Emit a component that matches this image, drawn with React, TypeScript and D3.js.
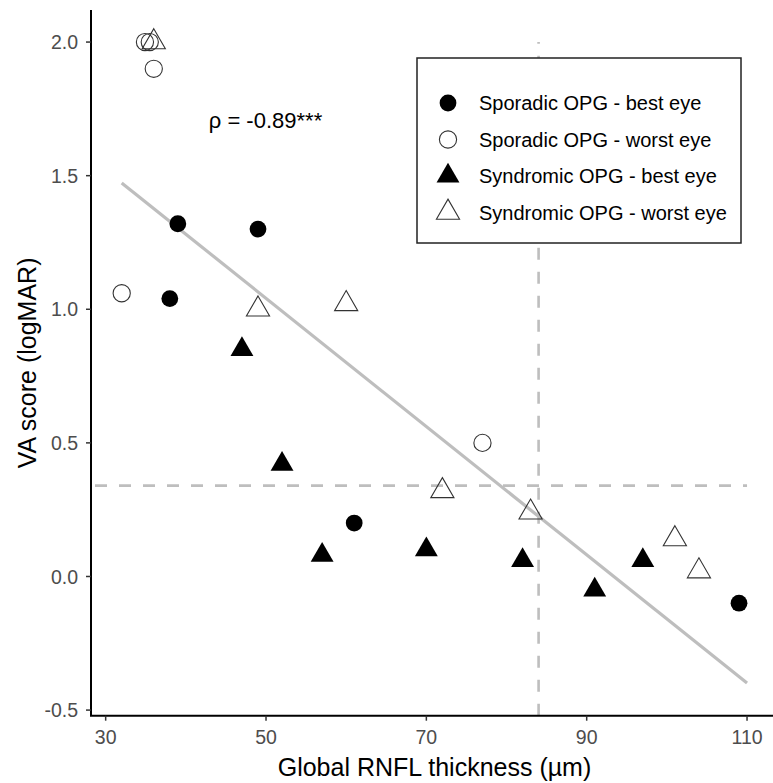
import React from "react";
import * as d3 from "d3";

// ---- data ----
const sporBestX = [39, 49, 38, 61, 109];
const sporBestY = [1.32, 1.3, 1.04, 0.2, -0.1];
const sporWorstX = [34.9, 35.5, 36, 32, 77];
const sporWorstY = [2.0, 2.0, 1.9, 1.06, 0.5];
const syndBestX = [47, 52, 57, 70, 82, 91, 97];
const syndBestY = [0.85, 0.42, 0.08, 0.1, 0.06, -0.05, 0.06];
const syndWorstX = [36, 49, 60, 72, 83, 101, 104];
const syndWorstY = [2.0, 1.0, 1.02, 0.32, 0.24, 0.14, 0.02];
const trendX = [32, 110];
const trendY = [1.473, -0.399];
const cutX = 84;
const cutY = 0.34;
const xTicks = [30, 50, 70, 90, 110];
const yTicks = [-0.5, 0.0, 0.5, 1.0, 1.5, 2.0];
const legendLabels = [
  "Sporadic OPG - best eye",
  "Sporadic OPG - worst eye",
  "Syndromic OPG - best eye",
  "Syndromic OPG - worst eye",
];
const annotation = "ρ = -0.89***";

const W = 773;
const H = 783;
const FONT = "'Liberation Sans', Arial, Helvetica, sans-serif";

const x = d3.scaleLinear().domain([28.17, 113.9]).range([91, 778.3]);
const y = d3.scaleLinear().domain([-0.521, 2.12]).range([715.7, 10]);

const TRC0 = Math.sqrt((4 * Math.PI) / (3 * Math.sqrt(3)));
const TRC1 = (TRC0 * Math.sqrt(3)) / 2;
const TRC2 = TRC0 / 2;
function triPath(cx: number, cy: number, r: number) {
  return `M${cx},${cy - r * TRC0}L${cx + r * TRC1},${cy + r * TRC2}L${cx - r * TRC1},${cy + r * TRC2}Z`;
}

type Kind = "fc" | "oc" | "ft" | "ot";
function Marker({ kind, cx, cy }: { kind: Kind; cx: number; cy: number }) {
  if (kind === "fc") return <circle cx={cx} cy={cy} r={8.4} fill="#000" />;
  if (kind === "oc")
    return <circle cx={cx} cy={cy} r={8.6} fill="none" stroke="#333" strokeWidth={1.1} />;
  if (kind === "ft") return <path d={triPath(cx, cy, 8.5)} fill="#000" />;
  return <path d={triPath(cx, cy, 8.6)} fill="none" stroke="#333" strokeWidth={1.1} />;
}

export default function App() {
  const line = d3
    .line<number>()
    .x((d) => x(trendX[d]))
    .y((d) => y(trendY[d]));
  const series: { kind: Kind; xs: number[]; ys: number[] }[] = [
    { kind: "oc", xs: sporWorstX, ys: sporWorstY },
    { kind: "ot", xs: syndWorstX, ys: syndWorstY },
    { kind: "fc", xs: sporBestX, ys: sporBestY },
    { kind: "ft", xs: syndBestX, ys: syndBestY },
  ];
  const legendKinds: Kind[] = ["fc", "oc", "ft", "ot"];
  const panelLeft = x.range()[0];
  const panelBottom = y.range()[0];
  const panelTop = y.range()[1];
  return (
    <svg
      width={W}
      height={H}
      style={{ position: "absolute", left: 0, top: 0, background: "#fff" }}
      fontFamily={FONT}
    >
      <rect x={0} y={0} width={W} height={H} fill="#fff" />
      {/* reference lines */}
      <line
        x1={x(cutX)}
        x2={x(cutX)}
        y1={panelBottom}
        y2={y(2.0)}
        stroke="#BEBEBE"
        strokeWidth={2.6}
        strokeDasharray="12,12"
      />
      <line
        x1={panelLeft + 4}
        x2={x(110)}
        y1={y(cutY)}
        y2={y(cutY)}
        stroke="#BEBEBE"
        strokeWidth={2.6}
        strokeDasharray="12,12"
      />
      {/* trend line */}
      <path d={line([0, 1]) || ""} stroke="#BEBEBE" strokeWidth={3.2} fill="none" />
      {/* points */}
      {series.map((s, si) =>
        s.xs.map((v, i) => <Marker key={si + "-" + i} kind={s.kind} cx={x(v)} cy={y(s.ys[i])} />)
      )}
      {/* annotation */}
      <text x={265.5} y={128} textAnchor="middle" fontSize={22} fill="#000">
        {annotation}
      </text>
      {/* axes */}
      <line x1={panelLeft} x2={panelLeft} y1={panelTop} y2={panelBottom} stroke="#000" strokeWidth={2} />
      <line x1={panelLeft - 1} x2={W} y1={panelBottom} y2={panelBottom} stroke="#000" strokeWidth={2} />
      {yTicks.map((t) => (
        <g key={"y" + t}>
          <line x1={panelLeft - 5} x2={panelLeft} y1={y(t)} y2={y(t)} stroke="#333" strokeWidth={1.5} />
          <text
            x={panelLeft - 13}
            y={y(t)}
            dy="0.36em"
            textAnchor="end"
            fontSize={19.5}
            fill="#4D4D4D"
          >
            {t.toFixed(1)}
          </text>
        </g>
      ))}
      {xTicks.map((t) => (
        <g key={"x" + t}>
          <line x1={x(t)} x2={x(t)} y1={panelBottom} y2={panelBottom + 5} stroke="#333" strokeWidth={1.5} />
          <text x={x(t)} y={744} textAnchor="middle" fontSize={19.5} fill="#4D4D4D">
            {t}
          </text>
        </g>
      ))}
      <text x={(91 + 778) / 2} y={776} textAnchor="middle" fontSize={25} fill="#000">
        Global RNFL thickness (µm)
      </text>
      <text
        transform={`translate(36,${(panelTop + panelBottom) / 2}) rotate(-90)`}
        textAnchor="middle"
        fontSize={25}
        fill="#000"
      >
        VA score (logMAR)
      </text>
      {/* legend */}
      <rect x={417} y={58} width={324} height={185} fill="#fff" stroke="#222" strokeWidth={1.5} />
      {legendLabels.map((lab, i) => {
        const cy = 103 + i * 36.5;
        return (
          <g key={lab}>
            <Marker kind={legendKinds[i]} cx={448} cy={cy} />
            <text x={479} y={cy} dy="0.36em" fontSize={20} fill="#000">
              {lab}
            </text>
          </g>
        );
      })}
    </svg>
  );
}
